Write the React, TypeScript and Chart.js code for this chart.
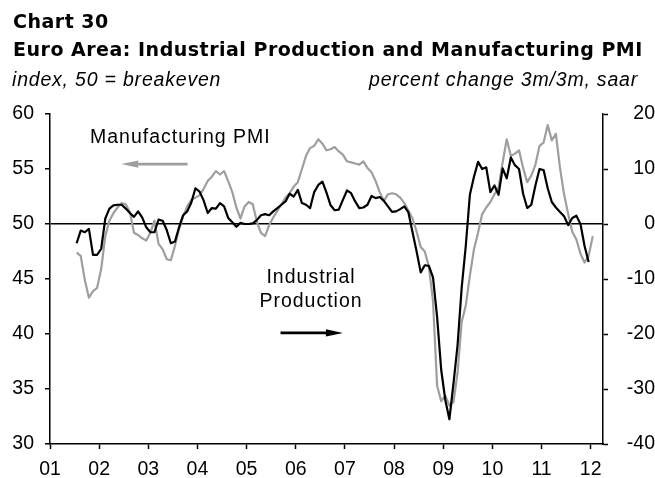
import React, { useEffect, useRef } from "react";
import { Chart, registerables } from "chart.js";

Chart.register(...registerables);

// ---------- text ----------
const CHART_NO = "Chart 30";
const TITLE = "Euro Area: Industrial Production and Manufacturing PMI";
const LEFT_UNIT = "index, 50 = breakeven";
const RIGHT_UNIT = "percent change 3m/3m, saar";
const PMI_LABEL = "Manufacturing PMI";
const IP_LABEL = ["Industrial", "Production"];

// ---------- data (monthly, first observation July 2001) ----------
const START_YEAR = 2001;
const START_MONTH = 7;

// Manufacturing PMI, Jul 2001 - Jan 2012 (left axis)
const PMI: number[] = [
  47.4, 47.1, 44.9, 43.3, 43.9, 44.2, 45.9, 48.9, 50.3, 51.0,
  51.5, 51.9, 51.8, 51.1, 49.2, 49.0, 48.7, 48.5, 49.2, 50.3,
  48.2, 47.7, 46.8, 46.7, 48.0, 49.5, 50.7, 51.6, 52.2, 52.4,
  52.6, 53.2, 53.9, 54.3, 54.8, 54.5, 54.8, 53.9, 52.9, 51.5,
  50.5, 51.6, 52.0, 51.8, 50.2, 49.2, 48.9, 49.9, 50.6, 51.2,
  51.8, 52.4, 52.8, 53.4, 53.8, 55.0, 56.2, 56.9, 57.1, 57.7,
  57.3, 56.7, 56.8, 57.0, 56.6, 56.3, 55.7, 55.6, 55.5, 55.4,
  55.7, 55.1, 54.7, 53.9, 52.9, 52.1, 52.7, 52.8, 52.7, 52.4,
  51.9, 51.2, 50.5, 49.3, 47.9, 47.5, 46.1, 43.0, 35.3, 33.9,
  34.4, 33.5, 33.8, 36.5, 41.1, 42.6, 45.3, 47.7, 49.2, 50.9,
  51.5, 52.0, 52.7, 53.3, 55.6, 57.7, 56.2, 56.4, 56.7, 55.1,
  53.8, 54.4, 55.4, 57.1, 57.4, 59.0, 57.6, 58.2, 55.1, 52.7,
  50.9, 49.3, 48.6, 47.3, 46.5, 47.1, 48.9,
];

// Industrial production, % 3m/3m saar, Jul 2001 - Dec 2011 (right axis)
const IP: number[] = [
  -3.5, -1.2, -1.5, -0.9, -5.6, -5.6, -4.5, 1.0, 2.8, 3.4,
  3.5, 3.5, 2.8, 2.0, 1.3, 2.3, 1.2, -0.6, -1.5, -1.5,
  0.8, 0.6, -1.1, -3.5, -3.2, -0.6, 1.6, 2.3, 3.9, 6.5,
  5.9, 4.3, 2.0, 2.9, 2.8, 3.8, 3.2, 1.1, 0.3, -0.5,
  0.2, 0.0, 0.0, 0.1, 0.7, 1.6, 1.8, 1.6, 2.3, 2.9,
  3.5, 4.1, 5.5, 5.0, 6.2, 3.8, 3.5, 2.9, 5.8, 7.1,
  7.7, 5.7, 3.4, 2.5, 2.6, 4.4, 6.1, 5.6, 4.1, 2.9,
  3.0, 3.5, 5.1, 4.7, 4.9, 4.2, 3.2, 2.2, 2.3, 2.7,
  3.2, 2.1, -1.5, -5.0, -8.8, -7.5, -7.6, -9.7, -16.9, -26.5,
  -32.0, -35.5, -29.0, -22.0, -11.6, -4.0, 5.3, 8.6, 11.3, 10.0,
  10.3, 5.8, 7.0, 5.3, 10.1, 8.3, 12.1, 10.7, 10.0, 5.5,
  2.9, 3.5, 7.0, 10.0, 9.8, 6.5, 4.0, 3.0, 2.2, 1.4,
  -0.2, 1.1, 1.5, 0.0, -4.0, -6.9,
];

// ---------- axes ----------
const YEAR_TICKS = [2001, 2002, 2003, 2004, 2005, 2006, 2007, 2008, 2009, 2010, 2011, 2012];
const X_MIN = 2001;
const X_MAX = 2012.25;
const PMI_TICKS = [30, 35, 40, 45, 50, 55, 60];
const IP_TICKS = [-40, -30, -20, -10, 0, 10, 20];
const PMI_BREAKEVEN = 50;

const GRAY = "#9e9e9e";
const BLACK = "#000000";

// annotation arrows, in data coordinates (x: year, level: PMI scale)
const ARROWS = [
  { from: 2003.8, to: 2002.45, level: 55.45, color: GRAY },
  { from: 2005.69, to: 2006.96, level: 40.1, color: BLACK },
];

function toPoints(values: number[]) {
  return values.map((v, i) => ({
    x: START_YEAR + (START_MONTH - 1 + i + 0.5) / 12,
    y: v,
  }));
}

const arrowPlugin = {
  id: "arrowAnnotations",
  afterDatasetsDraw(chart: any) {
    const { ctx, scales } = chart;
    const xs = scales.x;
    const ys = scales.y;
    ARROWS.forEach((a) => {
      const x1 = xs.getPixelForValue(a.from);
      const x2 = xs.getPixelForValue(a.to);
      const py = ys.getPixelForValue(a.level);
      const dir = Math.sign(x2 - x1);
      const headLen = 17;
      const headHalf = 3.6;
      ctx.save();
      ctx.strokeStyle = a.color;
      ctx.fillStyle = a.color;
      ctx.lineWidth = 2.8;
      ctx.beginPath();
      ctx.moveTo(x1, py);
      ctx.lineTo(x2 - dir * headLen * 0.7, py);
      ctx.stroke();
      ctx.beginPath();
      ctx.moveTo(x2, py);
      ctx.lineTo(x2 - dir * headLen, py - headHalf);
      ctx.lineTo(x2 - dir * headLen, py + headHalf);
      ctx.closePath();
      ctx.fill();
      ctx.restore();
    });
  },
};

const TICK_FONT = { family: '"Liberation Sans", Arial, sans-serif', size: 19.5 };

export default function App() {
  const canvasRef = useRef<HTMLCanvasElement | null>(null);

  useEffect(() => {
    if (!canvasRef.current) return;
    const chart = new Chart(canvasRef.current, {
      type: "line",
      data: {
        datasets: [
          {
            label: "Industrial Production",
            data: toPoints(IP),
            yAxisID: "y2",
            borderColor: BLACK,
            borderWidth: 2.2,
            pointRadius: 0,
            tension: 0,
            borderJoinStyle: "round",
            order: 0,
          },
          {
            label: "Manufacturing PMI",
            data: toPoints(PMI),
            yAxisID: "y",
            borderColor: GRAY,
            borderWidth: 2.2,
            pointRadius: 0,
            tension: 0,
            borderJoinStyle: "round",
            order: 1,
          },
        ],
      },
      options: {
        animation: false,
        responsive: false,
        devicePixelRatio: 1,
        layout: { padding: { top: 114, left: 0, right: 0, bottom: 0 } },
        plugins: {
          legend: { display: false },
          tooltip: { enabled: false },
          title: { display: false },
        },
        scales: {
          x: {
            type: "linear",
            min: X_MIN,
            max: X_MAX,
            afterBuildTicks: (s: any) => {
              s.ticks = YEAR_TICKS.map((v) => ({ value: v }));
            },
            afterFit: (s: any) => {
              s.height = 34;
            },
            ticks: {
              autoSkip: false,
              maxRotation: 0,
              padding: 9,
              color: BLACK,
              font: TICK_FONT,
              callback: (v: any) => String(Math.round(Number(v)) % 100).padStart(2, "0"),
            },
            grid: {
              drawOnChartArea: false,
              drawTicks: true,
              tickLength: 5,
              tickColor: BLACK,
              tickWidth: 1.5,
            },
            border: { display: true, color: BLACK, width: 1.5 },
          },
          y: {
            type: "linear",
            position: "left",
            min: PMI_TICKS[0],
            max: PMI_TICKS[PMI_TICKS.length - 1],
            afterBuildTicks: (s: any) => {
              s.ticks = PMI_TICKS.map((v) => ({ value: v }));
            },
            afterFit: (s: any) => {
              s.width = 50;
            },
            ticks: { padding: 11, color: BLACK, font: TICK_FONT },
            grid: {
              drawOnChartArea: true,
              drawTicks: true,
              tickLength: 5,
              lineWidth: 1.5,
              tickWidth: 1.5,
              tickColor: BLACK,
              color: (ctx: any) =>
                ctx.tick && ctx.tick.value === PMI_BREAKEVEN ? BLACK : "rgba(0,0,0,0)",
            },
            border: { display: true, color: BLACK, width: 1.5 },
          },
          y2: {
            type: "linear",
            position: "right",
            min: IP_TICKS[0],
            max: IP_TICKS[IP_TICKS.length - 1],
            afterBuildTicks: (s: any) => {
              s.ticks = IP_TICKS.map((v) => ({ value: v }));
            },
            afterFit: (s: any) => {
              s.width = 52;
            },
            ticks: { padding: 4, color: BLACK, font: TICK_FONT, crossAlign: "far" },
            grid: {
              drawOnChartArea: false,
              drawTicks: true,
              tickLength: 5,
              tickWidth: 1.5,
              tickColor: BLACK,
            },
            border: { display: true, color: BLACK, width: 1.5 },
          },
        },
      } as any,
      plugins: [arrowPlugin],
    });
    return () => chart.destroy();
  }, []);

  const regular = '"Liberation Sans", Arial, sans-serif';
  const bold = '"DejaVu Sans", sans-serif';

  const abs = (style: React.CSSProperties): React.CSSProperties => ({
    position: "absolute",
    whiteSpace: "nowrap",
    margin: 0,
    color: BLACK,
    ...style,
  });

  return (
    <div
      style={{
        position: "absolute",
        left: 0,
        top: 0,
        width: 655,
        height: 478,
        background: "#ffffff",
        overflow: "hidden",
      }}
    >
      <canvas
        ref={canvasRef}
        width={655}
        height={478}
        style={{ position: "absolute", left: 0, top: 0, width: 655, height: 478, display: "block" }}
      />
      <div
        style={abs({
          left: 13,
          top: 12,
          fontFamily: bold,
          fontWeight: 700,
          fontSize: 19,
          lineHeight: "19px",
          letterSpacing: "0.5px",
        })}
      >
        {CHART_NO}
      </div>
      <div
        style={abs({
          left: 13,
          top: 40,
          fontFamily: bold,
          fontWeight: 700,
          fontSize: 19,
          lineHeight: "19px",
          letterSpacing: "0.5px",
        })}
      >
        {TITLE}
      </div>
      <div
        style={abs({
          left: 12,
          top: 69.5,
          fontFamily: regular,
          fontStyle: "italic",
          fontSize: 19.5,
          lineHeight: "19.5px",
          letterSpacing: "0.8px",
        })}
      >
        {LEFT_UNIT}
      </div>
      <div
        style={abs({
          right: 17,
          top: 69.5,
          fontFamily: regular,
          fontStyle: "italic",
          fontSize: 19.5,
          lineHeight: "19.5px",
          letterSpacing: "0.8px",
          textAlign: "right",
        })}
      >
        {RIGHT_UNIT}
      </div>
      <div
        style={abs({
          left: 90,
          top: 126.5,
          fontFamily: regular,
          fontSize: 19.5,
          lineHeight: "19.5px",
          letterSpacing: "1px",
        })}
      >
        {PMI_LABEL}
      </div>
      {IP_LABEL.map((line, i) => (
        <div
          key={line}
          style={abs({
            left: 211,
            width: 200,
            top: 267 + i * 24,
            textAlign: "center",
            fontFamily: regular,
            fontSize: 19.5,
            lineHeight: "19.5px",
            letterSpacing: "1px",
          })}
        >
          {line}
        </div>
      ))}
    </div>
  );
}
